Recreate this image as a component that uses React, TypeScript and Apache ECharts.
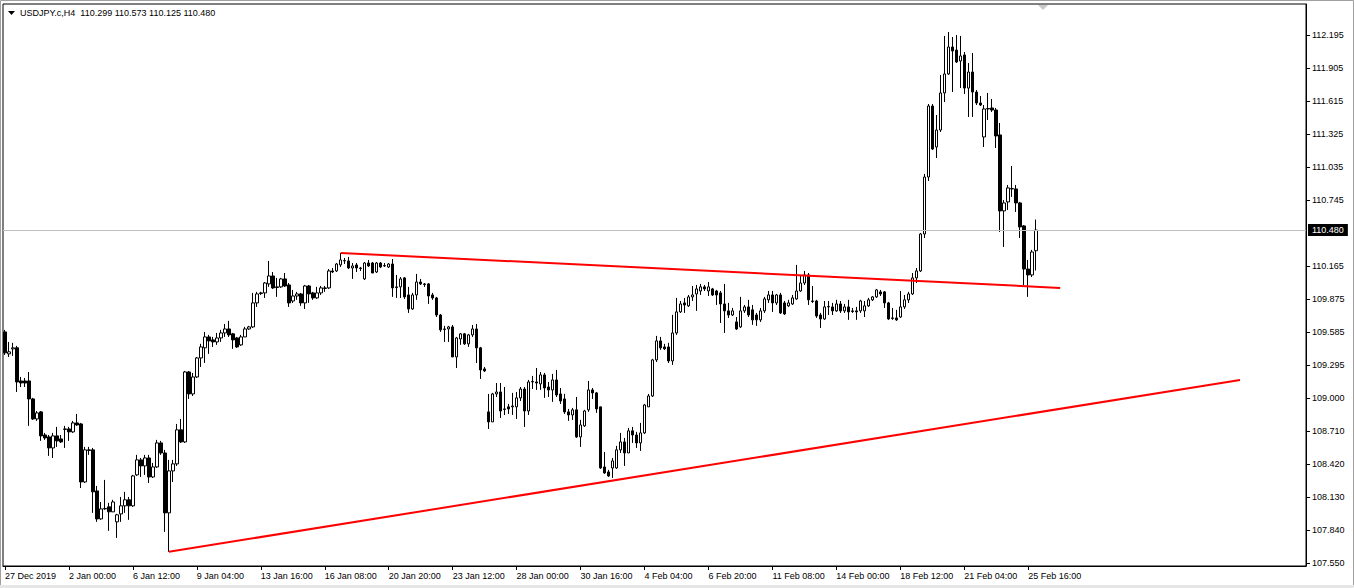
import React, { useEffect, useRef } from 'react';
import * as echarts from 'echarts';

const SYMBOL = 'USDJPY.c,H4';

// [open, close, low, high] per H4 bar
const candles: number[][] = [
  [109.585, 109.401, 109.383, 109.603], [109.392, 109.410, 109.365, 109.497], [109.436, 109.445, 109.374, 109.489], [109.445, 109.145, 109.057, 109.462],
  [109.154, 109.136, 109.101, 109.189], [109.154, 109.136, 109.101, 109.180], [109.154, 108.996, 108.759, 109.233], [108.996, 108.820, 108.811, 109.005],
  [108.820, 108.873, 108.803, 108.890], [108.882, 108.671, 108.627, 108.890], [108.679, 108.653, 108.636, 108.697], [108.662, 108.565, 108.495, 108.679],
  [108.565, 108.671, 108.477, 108.697], [108.671, 108.627, 108.574, 108.750], [108.644, 108.618, 108.609, 108.679], [108.728, 108.732, 108.565, 108.759],
  [108.732, 108.706, 108.627, 108.750], [108.706, 108.785, 108.697, 108.802], [108.785, 108.767, 108.759, 108.864], [108.776, 108.266, 108.213, 108.785],
  [108.266, 108.548, 108.257, 108.574], [108.548, 108.543, 108.504, 108.574], [108.548, 108.179, 107.994, 108.565], [108.187, 107.941, 107.915, 108.231],
  [107.941, 108.029, 107.933, 108.090], [108.029, 108.033, 108.021, 108.284], [108.047, 108.003, 107.836, 108.082], [108.003, 108.090, 108.003, 108.109],
  [107.915, 107.977, 107.774, 107.985], [107.985, 108.056, 107.915, 108.134], [108.056, 108.109, 107.994, 108.179], [108.109, 108.056, 107.933, 108.134],
  [108.056, 108.319, 108.047, 108.328], [108.328, 108.460, 108.319, 108.504], [108.460, 108.407, 108.310, 108.477], [108.407, 108.477, 108.328, 108.504],
  [108.477, 108.310, 108.257, 108.504], [108.310, 108.398, 108.301, 108.433], [108.398, 108.609, 108.389, 108.636], [108.609, 108.521, 108.504, 108.627],
  [108.521, 107.994, 107.827, 108.548], [107.994, 108.363, 107.652, 108.460], [108.363, 108.425, 108.266, 108.460], [108.425, 108.724, 108.407, 108.776],
  [108.724, 108.618, 108.609, 108.820], [108.618, 109.233, 108.609, 109.242], [109.233, 109.040, 108.996, 109.242], [109.040, 109.189, 109.022, 109.224],
  [109.189, 109.356, 109.180, 109.365], [109.356, 109.453, 109.277, 109.480], [109.445, 109.541, 109.312, 109.585], [109.541, 109.506, 109.392, 109.559],
  [109.515, 109.497, 109.453, 109.541], [109.497, 109.532, 109.471, 109.576], [109.532, 109.576, 109.497, 109.603], [109.576, 109.611, 109.541, 109.655],
  [109.611, 109.559, 109.541, 109.682], [109.568, 109.515, 109.436, 109.576], [109.532, 109.453, 109.445, 109.541], [109.471, 109.541, 109.462, 109.559],
  [109.541, 109.611, 109.541, 109.629], [109.611, 109.629, 109.603, 109.638], [109.629, 109.840, 109.620, 109.928], [109.840, 109.919, 109.805, 109.937],
  [109.923, 109.928, 109.910, 109.937], [109.928, 110.015, 109.884, 110.024], [110.007, 110.077, 109.981, 110.209], [110.077, 109.972, 109.963, 110.112],
  [109.981, 109.976, 109.893, 110.060], [109.981, 110.051, 109.972, 110.060], [110.051, 109.989, 109.981, 110.103], [109.998, 109.840, 109.805, 110.015],
  [109.857, 109.901, 109.840, 109.954], [109.901, 109.919, 109.867, 109.937], [109.919, 109.840, 109.814, 109.928], [109.840, 109.989, 109.787, 109.998],
  [109.989, 109.919, 109.840, 109.998], [109.928, 109.884, 109.867, 109.937], [109.884, 109.928, 109.875, 109.981], [109.928, 109.972, 109.910, 109.989],
  [109.967, 109.972, 109.937, 109.989], [109.972, 110.121, 109.963, 110.138], [110.121, 110.112, 110.103, 110.147], [110.121, 110.182, 110.112, 110.191],
  [110.174, 110.218, 110.156, 110.279], [110.209, 110.213, 110.182, 110.235], [110.209, 110.147, 110.138, 110.244], [110.147, 110.165, 110.051, 110.191],
  [110.174, 110.147, 110.112, 110.191], [110.147, 110.143, 110.121, 110.156], [110.051, 110.191, 110.042, 110.200], [110.191, 110.165, 110.156, 110.218],
  [110.191, 110.103, 110.103, 110.200], [110.112, 110.191, 110.103, 110.200], [110.191, 110.156, 110.147, 110.200], [110.165, 110.169, 110.156, 110.191],
  [110.156, 110.182, 110.147, 110.191], [110.182, 109.972, 109.893, 110.226], [109.981, 109.976, 109.884, 110.086], [109.981, 110.051, 109.884, 110.068],
  [110.060, 109.893, 109.875, 110.068], [109.910, 109.787, 109.752, 109.981], [109.787, 109.910, 109.779, 109.928], [109.910, 110.024, 109.867, 110.095],
  [110.024, 110.007, 109.998, 110.051], [110.007, 110.002, 109.981, 110.015], [110.007, 109.901, 109.831, 110.015], [109.910, 109.884, 109.867, 109.928],
  [109.884, 109.734, 109.716, 109.893], [109.734, 109.603, 109.585, 109.743], [109.611, 109.607, 109.497, 109.638], [109.611, 109.629, 109.497, 109.638],
  [109.629, 109.365, 109.365, 109.646], [109.365, 109.532, 109.268, 109.541], [109.523, 109.568, 109.471, 109.576], [109.568, 109.480, 109.471, 109.576],
  [109.480, 109.559, 109.453, 109.568], [109.559, 109.611, 109.541, 109.646], [109.611, 109.445, 109.312, 109.655], [109.445, 109.251, 109.172, 109.453],
  [109.260, 109.242, 109.233, 109.277], [108.882, 108.794, 108.732, 109.040], [108.794, 109.040, 108.794, 109.049], [109.040, 109.057, 109.013, 109.136],
  [109.057, 108.890, 108.829, 109.136], [108.908, 108.904, 108.855, 109.101], [108.926, 108.908, 108.864, 108.952], [108.926, 108.934, 108.855, 109.049],
  [108.926, 109.005, 108.820, 109.057], [109.005, 109.083, 108.978, 109.101], [109.083, 108.890, 108.750, 109.101], [108.890, 109.145, 108.855, 109.163],
  [109.145, 109.150, 109.083, 109.198], [109.145, 109.136, 109.075, 109.268], [109.128, 109.207, 109.075, 109.233], [109.207, 109.092, 109.005, 109.224],
  [109.101, 109.075, 109.013, 109.145], [109.075, 109.163, 108.970, 109.216], [109.163, 109.031, 109.013, 109.251], [109.040, 108.978, 108.952, 109.092],
  [108.996, 108.882, 108.864, 109.040], [108.882, 108.855, 108.803, 108.908], [108.855, 108.900, 108.811, 108.917], [108.900, 108.662, 108.653, 109.013],
  [108.662, 108.767, 108.574, 108.812], [108.759, 108.890, 108.750, 108.900], [108.900, 109.075, 108.882, 109.154], [109.075, 109.049, 108.996, 109.092],
  [109.049, 108.908, 108.873, 109.057], [108.926, 108.389, 108.381, 108.926], [108.398, 108.345, 108.337, 108.530], [108.354, 108.319, 108.310, 108.372],
  [108.389, 108.451, 108.301, 108.477], [108.389, 108.548, 108.381, 108.583], [108.548, 108.618, 108.521, 108.697], [108.618, 108.521, 108.407, 108.653],
  [108.521, 108.715, 108.521, 108.741], [108.715, 108.679, 108.609, 108.750], [108.679, 108.609, 108.565, 108.706], [108.609, 108.697, 108.539, 108.785],
  [108.697, 108.943, 108.688, 108.952], [108.926, 109.022, 108.926, 109.040], [109.022, 109.339, 109.013, 109.348], [109.339, 109.506, 109.321, 109.550],
  [109.506, 109.445, 109.427, 109.541], [109.453, 109.436, 109.427, 109.480], [109.453, 109.330, 109.312, 109.489], [109.330, 109.576, 109.295, 109.735],
  [109.576, 109.761, 109.559, 109.884], [109.761, 109.831, 109.752, 109.857], [109.840, 109.822, 109.752, 109.884], [109.814, 109.893, 109.805, 109.910],
  [109.893, 109.910, 109.857, 109.989], [109.919, 109.963, 109.770, 109.998], [109.945, 109.981, 109.910, 110.007], [109.981, 109.963, 109.945, 109.998],
  [109.945, 109.981, 109.901, 110.024], [109.963, 109.910, 109.901, 109.972], [109.945, 109.910, 109.822, 109.954], [109.928, 109.831, 109.664, 109.945],
  [109.831, 109.770, 109.576, 110.007], [109.770, 109.734, 109.708, 109.840], [109.734, 109.770, 109.725, 109.796], [109.673, 109.611, 109.603, 109.716],
  [109.629, 109.770, 109.620, 109.893], [109.770, 109.805, 109.752, 109.822], [109.805, 109.734, 109.716, 109.867], [109.779, 109.691, 109.647, 109.822],
  [109.734, 109.691, 109.638, 109.752], [109.691, 109.770, 109.673, 109.796], [109.770, 109.875, 109.752, 109.893], [109.867, 109.910, 109.840, 109.945],
  [109.910, 109.840, 109.761, 109.945], [109.840, 109.910, 109.822, 109.919], [109.910, 109.752, 109.743, 109.928], [109.840, 109.743, 109.734, 109.857],
  [109.814, 109.840, 109.805, 109.867], [109.831, 109.884, 109.822, 109.910], [109.875, 109.945, 109.867, 110.174], [109.945, 110.015, 109.937, 110.086],
  [110.015, 110.086, 109.998, 110.121], [110.086, 109.867, 109.822, 110.103], [109.857, 109.853, 109.840, 109.989], [109.857, 109.725, 109.708, 109.867],
  [109.734, 109.699, 109.620, 109.752], [109.699, 109.805, 109.691, 109.857], [109.805, 109.809, 109.734, 109.857], [109.805, 109.770, 109.734, 109.840],
  [109.770, 109.831, 109.761, 109.867], [109.831, 109.770, 109.752, 109.857], [109.770, 109.805, 109.752, 109.831], [109.805, 109.761, 109.691, 109.867],
  [109.770, 109.765, 109.752, 109.796], [109.770, 109.761, 109.691, 109.805], [109.770, 109.857, 109.752, 109.867], [109.770, 109.814, 109.716, 109.857],
  [109.814, 109.867, 109.805, 109.884], [109.867, 109.893, 109.857, 109.901], [109.893, 109.954, 109.884, 109.963], [109.937, 109.919, 109.901, 109.954],
  [109.937, 109.840, 109.796, 109.945], [109.840, 109.699, 109.691, 109.849], [109.708, 109.704, 109.691, 109.796], [109.708, 109.691, 109.682, 109.779],
  [109.716, 109.805, 109.708, 109.945], [109.805, 109.867, 109.787, 109.910], [109.867, 109.919, 109.840, 109.937], [109.919, 110.060, 109.910, 110.103],
  [110.060, 110.121, 110.015, 110.147], [110.121, 110.446, 110.112, 110.455], [110.446, 110.947, 110.411, 110.974], [110.947, 111.571, 110.912, 111.589],
  [111.571, 111.193, 111.185, 111.589], [111.211, 111.360, 111.114, 111.492], [111.360, 111.686, 111.343, 111.844], [111.686, 111.853, 111.606, 112.187],
  [111.853, 112.090, 111.844, 112.222], [112.090, 112.055, 111.694, 112.178], [112.063, 111.958, 111.949, 112.195], [111.967, 112.011, 111.729, 112.187],
  [112.020, 111.729, 111.677, 112.046], [111.729, 111.870, 111.475, 111.949], [111.870, 111.694, 111.475, 112.037], [111.694, 111.598, 111.580, 111.712],
  [111.598, 111.580, 111.571, 111.659], [111.299, 111.545, 111.211, 111.580], [111.545, 111.549, 111.448, 111.686], [111.554, 111.536, 111.519, 111.633],
  [111.536, 111.308, 111.202, 111.554], [111.317, 110.649, 110.464, 111.422], [110.649, 110.719, 110.332, 110.745], [110.728, 110.851, 110.657, 110.877],
  [110.842, 110.846, 110.772, 111.044], [110.842, 110.719, 110.640, 110.877], [110.719, 110.508, 110.411, 110.728], [110.517, 110.138, 109.998, 110.525],
  [110.138, 110.086, 109.893, 110.218], [110.086, 110.288, 110.068, 110.306], [110.299, 110.480, 110.125, 110.573],
];

// empty bar slots to the right of the last bar (chart shift)
const FUTURE_SLOTS = 67;

// time-axis labels, one every LABEL_STEP bars starting at bar 0
const LABEL_STEP = 16;
const timeLabels = [
  '27 Dec 2019', '2 Jan 00:00', '6 Jan 12:00', '9 Jan 04:00', '13 Jan 16:00', '16 Jan 08:00',
  '20 Jan 20:00', '23 Jan 12:00', '28 Jan 00:00', '30 Jan 16:00', '4 Feb 04:00', '6 Feb 20:00',
  '11 Feb 08:00', '14 Feb 00:00', '18 Feb 12:00', '21 Feb 04:00', '25 Feb 16:00',
];

// price-axis labels
const priceTicks = [
  '107.550', '107.840', '108.130', '108.420', '108.710', '109.000', '109.295', '109.585',
  '109.875', '110.165', '110.745', '111.035', '111.325', '111.615', '111.905', '112.195',
];

const Y_MIN = 107.527;
const Y_MAX = 112.468;

// trend lines: [bar index, price]
const supportLine = [[41, 107.652], [309, 109.163]];
const resistanceLine = [[84, 110.279], [264, 109.972]];

const FONT = '"Liberation Sans", Arial, sans-serif';

export default function App() {
  const ref = useRef<HTMLDivElement>(null);

  useEffect(() => {
    document.body.style.margin = '0';
    const chart = echarts.init(ref.current!, null, { renderer: 'svg' });
    const n = candles.length + FUTURE_SLOTS;
    const categories = Array.from({ length: n }, (_, i) => String(i));
    const last = candles[candles.length - 1];
    const lastPrice = last[1];
    const header = `${SYMBOL}  ${last[0].toFixed(3)} ${last[3].toFixed(3)} ${last[2].toFixed(3)} ${last[1].toFixed(3)}`;
    const showTick = (i: number) => i % LABEL_STEP === 0 && i / LABEL_STEP < timeLabels.length;
    const tickVals = priceTicks.map(Number);

    chart.setOption({
      animation: false,
      backgroundColor: '#ffffff',
      grid: {
        left: 3, top: 4, right: 48, bottom: 22,
        show: true, borderColor: '#000', borderWidth: 1, backgroundColor: 'transparent',
      },
      xAxis: [
        {
          type: 'category',
          data: categories,
          boundaryGap: true,
          axisLine: { show: true, onZero: false, lineStyle: { color: '#000', width: 1 } },
          axisTick: { show: true, alignWithLabel: true, interval: (i: number) => showTick(i), length: 4, lineStyle: { color: '#000' } },
          axisLabel: {
            show: true,
            interval: (i: number) => showTick(i),
            formatter: (_v: string, i: number) => timeLabels[i / LABEL_STEP] ?? '',
            align: 'left',
            margin: 5,
            color: '#000',
            fontFamily: FONT,
            fontSize: 9,
          },
          splitLine: { show: false },
        },
        { type: 'value', min: -0.5, max: n - 0.5, show: false },
      ],
      yAxis: {
        type: 'value',
        position: 'right',
        min: Y_MIN,
        max: Y_MAX,
        axisLine: { show: true, onZero: false, lineStyle: { color: '#000', width: 1 } },
        axisTick: { show: true, length: 4, customValues: tickVals, lineStyle: { color: '#000' } },
        axisLabel: {
          show: true,
          customValues: tickVals,
          formatter: (v: number) => v.toFixed(3),
          margin: 6,
          color: '#000',
          fontFamily: FONT,
          fontSize: 9,
        },
        splitLine: { show: false },
      },
      series: [
        {
          type: 'candlestick',
          data: candles,
          barWidth: 3,
          itemStyle: {
            color: '#ffffff',
            color0: '#000000',
            borderColor: '#000000',
            borderColor0: '#000000',
            borderWidth: 1,
          },
          markLine: {
            silent: true,
            symbol: ['none', 'none'],
            data: [{ yAxis: lastPrice }],
            lineStyle: { color: '#c0c0c0', type: 'solid', width: 1 },
            label: {
              show: true,
              position: 'end',
              distance: 2,
              formatter: lastPrice.toFixed(3),
              color: '#ffffff',
              backgroundColor: '#000000',
              padding: [2, 4, 1, 4],
              fontFamily: FONT,
              fontSize: 9,
            },
            emphasis: { disabled: true },
          },
        },
        {
          type: 'line',
          xAxisIndex: 1,
          data: supportLine,
          symbol: 'none',
          silent: true,
          lineStyle: { color: '#ff0000', width: 2 },
        },
        {
          type: 'line',
          xAxisIndex: 1,
          data: resistanceLine,
          symbol: 'none',
          silent: true,
          lineStyle: { color: '#ff0000', width: 2 },
        },
      ],
      graphic: [
        { type: 'rect', shape: { x: 0.5, y: 0.5, width: 1353, height: 587 }, style: { fill: 'none', stroke: '#a0a0a0', lineWidth: 1 }, silent: true },
        { type: 'rect', shape: { x: 0, y: 585, width: 1354, height: 3 }, style: { fill: '#e6e6e6' }, silent: true },
        { type: 'polygon', shape: { points: [[8, 11], [15, 11], [11.5, 15]] }, style: { fill: '#000' }, silent: true },
        { type: 'polygon', shape: { points: [[1038, 5], [1048, 5], [1043, 10]] }, style: { fill: '#c8c8c8' }, silent: true },
        {
          type: 'text', x: 20, y: 13, silent: true,
          style: { text: header, fill: '#000', fontFamily: FONT, fontSize: 9, verticalAlign: 'middle', align: 'left' },
        },
      ],
    });
    return () => chart.dispose();
  }, []);

  return <div ref={ref} style={{ position: 'fixed', left: 0, top: 0, width: 1354, height: 588 }} />;
}
